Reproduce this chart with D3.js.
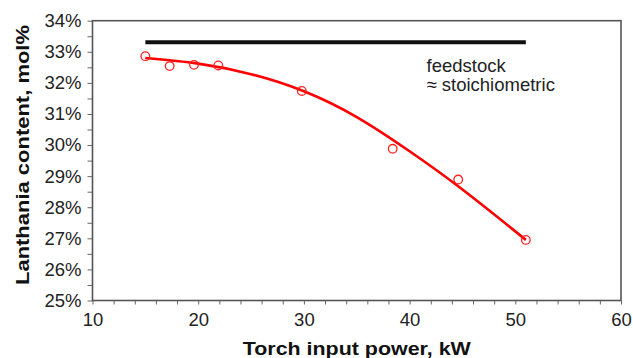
<!DOCTYPE html>
<html lang="en">
<head>
<meta charset="utf-8">
<title>Lanthania content vs torch power</title>
<script src="https://cdnjs.cloudflare.com/ajax/libs/d3/7.8.5/d3.min.js"></script>
<style>
  body { margin: 0; background: #fff; }
  svg { display: block; font-family: "Liberation Sans", Arial, sans-serif; }
  .tick text { fill: #222; }
</style>
</head>
<body>
<div id="chart"></div>
<script>
// measured points
var powerKW      = [15.0, 17.3, 19.6, 21.9, 29.8, 38.4, 44.6, 51.0];
var lanthaniaPct = [32.86, 32.54, 32.58, 32.56, 31.74, 29.88, 28.89, 26.95];

// fitted trend
var trendKW  = [15, 20, 25, 30, 35, 40, 45, 51];
var trendPct = [32.8, 32.62, 32.28, 31.73, 30.9, 29.8, 28.57, 26.95];

// feedstock composition line
var feedKW  = [15, 51];
var feedPct = [33.31, 33.31];

var xTicks = [10, 20, 30, 40, 50, 60];
var yTicks = [25, 26, 27, 28, 29, 30, 31, 32, 33, 34];

var width = 633, height = 358;
var margin = {top: 20.7, right: 12, bottom: 57.5, left: 92.5};

var svg = d3.select("#chart").append("svg")
    .attr("width", width)
    .attr("height", height);

var x = d3.scaleLinear().domain([10, 60]).range([margin.left, width - margin.right]);
var y = d3.scaleLinear().domain([25, 34]).range([height - margin.bottom, margin.top]);

// minor ticks
svg.append("g")
    .attr("transform", "translate(0," + y(25) + ")")
    .call(d3.axisBottom(x).tickValues(d3.range(10, 61, 2)).tickSize(4).tickFormat(""))
    .call(g => g.select(".domain").remove())
    .call(g => g.selectAll("line").attr("stroke", "#666"));

svg.append("g")
    .attr("transform", "translate(" + x(10) + ",0)")
    .call(d3.axisLeft(y).tickValues(d3.range(25, 34.01, 0.5)).tickSize(5).tickFormat(""))
    .call(g => g.select(".domain").remove())
    .call(g => g.selectAll("line").attr("stroke", "#666"));

// labels
svg.append("g")
    .attr("transform", "translate(0," + y(25) + ")")
    .call(d3.axisBottom(x).tickValues(xTicks).tickSize(0).tickPadding(12).tickFormat(d3.format("d")))
    .call(g => g.select(".domain").remove())
    .call(g => g.selectAll("text").attr("font-size", 18.5).attr("font-family", "Liberation Sans, Arial, sans-serif"));

svg.append("g")
    .attr("transform", "translate(" + (x(10) - 11) + ",0)")
    .call(d3.axisLeft(y).tickValues(yTicks).tickSize(0).tickPadding(0).tickFormat(d => d + "%"))
    .call(g => g.select(".domain").remove())
    .call(g => g.selectAll("text").attr("font-size", 18.5).attr("font-family", "Liberation Sans, Arial, sans-serif"));

// plot frame
svg.append("rect")
    .attr("x", x(10))
    .attr("y", y(34))
    .attr("width", x(60) - x(10))
    .attr("height", y(25) - y(34))
    .attr("fill", "none")
    .attr("stroke", "#555")
    .attr("stroke-width", 1.6);

// feedstock line
svg.append("line")
    .attr("x1", x(feedKW[0])).attr("x2", x(feedKW[1]))
    .attr("y1", y(feedPct[0])).attr("y2", y(feedPct[1]))
    .attr("stroke", "#111")
    .attr("stroke-width", 4);

svg.append("text")
    .attr("x", 426.5)
    .attr("y", 71.5)
    .attr("font-size", 18.5)
    .attr("fill", "#222")
    .text("feedstock");
svg.append("text")
    .attr("x", 426.5)
    .attr("y", 90.5)
    .attr("font-size", 18.5)
    .attr("fill", "#222")
    .text("\u2248 stoichiometric");

// trend curve
var trend = trendKW.map((k, i) => [k, trendPct[i]]);
svg.append("path")
    .datum(trend)
    .attr("fill", "none")
    .attr("stroke", "#ff0000")
    .attr("stroke-width", 2.6)
    .attr("d", d3.line().x(d => x(d[0])).y(d => y(d[1])).curve(d3.curveNatural));

// data points
svg.append("g")
    .selectAll("circle")
    .data(powerKW.map((k, i) => [k, lanthaniaPct[i]]))
    .enter()
    .append("circle")
    .attr("cx", d => x(d[0]))
    .attr("cy", d => y(d[1]))
    .attr("r", 4.3)
    .attr("fill", "none")
    .attr("stroke", "#ff2020")
    .attr("stroke-width", 1.3);

// axis titles
svg.append("text")
    .attr("x", (x(10) + x(60)) / 2)
    .attr("y", 354.5)
    .attr("text-anchor", "middle")
    .attr("font-size", 19)
    .attr("font-weight", "bold")
    .attr("fill", "#111")
    .attr("textLength", 228)
    .attr("lengthAdjust", "spacingAndGlyphs")
    .text("Torch input power, kW");

svg.append("text")
    .attr("transform", "translate(29," + 155 + ") rotate(-90)")
    .attr("text-anchor", "middle")
    .attr("font-size", 19)
    .attr("font-weight", "bold")
    .attr("fill", "#111")
    .attr("textLength", 260)
    .attr("lengthAdjust", "spacingAndGlyphs")
    .text("Lanthania content, mol%");
</script>
</body>
</html>
